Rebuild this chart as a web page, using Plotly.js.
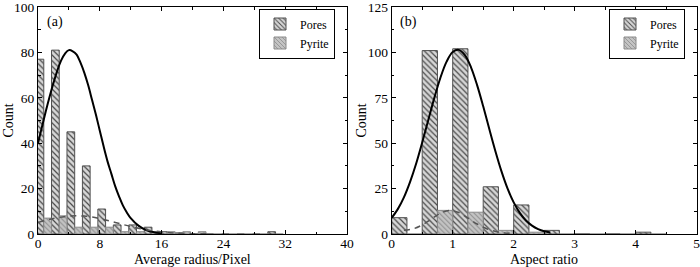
<!DOCTYPE html>
<html>
<head>
<meta charset="utf-8">
<script src="https://cdn.plot.ly/plotly-3.0.1.min.js"></script>
<style>html,body{margin:0;padding:0;background:#fff;}#chart{width:700px;height:267px;}</style>
</head>
<body>
<div id="chart"></div>
<script>
// ---- Panel (a): average radius histogram (bin centres, width 2) ----
var binsA = [0.75, 2.75, 4.75, 6.75, 8.75, 10.75, 12.75, 14.75, 16.75, 18.75, 20.75, 22.75, 24.75, 26.75, 28.75, 30.75];
var poresA = [77, 81, 45, 30, 11, 4, 4, 3, 1, 0.5, 0, 0, 0, 0, 0, 1];
var pyriteA = [7, 8, 3, 3, 3, 1, 1, 1, 1, 1, 1, 0, 0, 0, 0, 0];
var fitPoresAx = [0, 0.5, 1, 1.5, 2, 2.5, 3, 3.5, 4, 4.5, 5, 5.5, 6, 6.5, 7, 7.5, 8, 8.5, 9, 9.5, 10, 10.5, 11, 11.5, 12, 13, 14, 15, 16];
var fitPoresAy = [40, 47, 54, 60.5, 66.5, 72, 76.5, 79.5, 81, 80.5, 79, 75.5, 71, 65.5, 59, 52.5, 45.5, 38.5, 32, 26.5, 21, 16.5, 12.5, 9.5, 7, 3.7, 1.7, 0.8, 0.3];
var fitPyriteAx = [0, 2, 4, 6, 8, 10, 12, 14, 16, 18, 20, 22];
var fitPyriteAy = [5.1, 6.8, 7.9, 7.9, 6.8, 5.1, 3.3, 1.9, 0.9, 0.4, 0.15, 0.05];

// ---- Panel (b): aspect ratio histogram (bin centres, width 0.5) ----
var binsB = [0.25, 0.75, 1.25, 1.75, 2.25, 2.75, 3.25, 3.75, 4.25];
var poresB = [9, 101, 102, 26, 16, 2, 0, 0, 1];
var pyriteB = [0, 13, 12, 2, 1, 0, 0, 0, 0];
var fitPoresBx = [0, 0.1, 0.2, 0.3, 0.4, 0.5, 0.6, 0.7, 0.8, 0.9, 1.0, 1.1, 1.2, 1.3, 1.4, 1.5, 1.6, 1.7, 1.8, 1.9, 2.0, 2.1, 2.2, 2.3, 2.4, 2.5, 2.6];
var fitPoresBy = [8.9, 13.7, 20.2, 28.6, 38.7, 50.4, 62.8, 75.1, 86.2, 94.9, 100.2, 101.4, 98.5, 91.8, 82, 70.3, 57.8, 45.6, 34.5, 25, 17.4, 11.6, 7.4, 4.6, 2.7, 1.5, 0.8];
var fitPyriteBx = [0.2, 0.35, 0.5, 0.65, 0.8, 0.95, 1.1, 1.25, 1.4, 1.55, 1.7, 1.85, 2.0];
var fitPyriteBy = [2, 2.8, 5, 8.2, 11.5, 13, 11.8, 8.8, 5.5, 3, 1.4, 0.6, 0.2];

var seriesNames = ['Pores', 'Pyrite'];
var panelLabels = ['(a)', '(b)'];
var xTitles = ['Average radius/Pixel', 'Aspect ratio'];
var yTitle = 'Count';

var FONT = 'Liberation Serif';
var poresMarker = {color: '#d6d6d6', line: {color: '#505050', width: 1},
  pattern: {shape: '\\', fgcolor: '#4a4a4a', bgcolor: '#d6d6d6', size: 4, solidity: 0.3, fillmode: 'replace'}};
var pyriteMarker = {color: '#bdbdbd', line: {color: '#8a8a8a', width: 1},
  pattern: {shape: '\\', fgcolor: '#8e8e8e', bgcolor: '#c4c4c4', size: 3.5, solidity: 0.3, fillmode: 'replace'}};

var traces = [
  {type: 'bar', x: binsA, y: poresA, name: seriesNames[0], marker: poresMarker, xaxis: 'x', yaxis: 'y', legend: 'legend'},
  {type: 'bar', x: binsA, y: pyriteA, name: seriesNames[1], marker: pyriteMarker, xaxis: 'x', yaxis: 'y', legend: 'legend'},
  {type: 'scatter', mode: 'lines', x: fitPoresAx, y: fitPoresAy, line: {color: '#000', width: 2, shape: 'spline'}, showlegend: false, xaxis: 'x', yaxis: 'y'},
  {type: 'scatter', mode: 'lines', x: fitPyriteAx, y: fitPyriteAy, line: {color: '#555', width: 1.5, dash: '6px,5px', shape: 'spline'}, showlegend: false, xaxis: 'x', yaxis: 'y'},
  {type: 'bar', x: binsB, y: poresB, name: seriesNames[0], marker: poresMarker, xaxis: 'x2', yaxis: 'y2', legend: 'legend2'},
  {type: 'bar', x: binsB, y: pyriteB, name: seriesNames[1], marker: pyriteMarker, xaxis: 'x2', yaxis: 'y2', legend: 'legend2'},
  {type: 'scatter', mode: 'lines', x: fitPoresBx, y: fitPoresBy, line: {color: '#000', width: 2, shape: 'spline'}, showlegend: false, xaxis: 'x2', yaxis: 'y2'},
  {type: 'scatter', mode: 'lines', x: fitPyriteBx, y: fitPyriteBy, line: {color: '#555', width: 1.5, dash: '6px,5px', shape: 'spline'}, showlegend: false, xaxis: 'x2', yaxis: 'y2'}
];

function axisBase(extra) {
  var a = {showgrid: false, zeroline: false, showline: true, linecolor: '#000', linewidth: 1, mirror: 'allticks',
    ticks: 'inside', ticklen: 4, tickcolor: '#000', tickwidth: 1, ticklabeloverflow: 'allow',
    tickfont: {family: FONT, size: 13.5, color: '#000'}, automargin: false};
  for (var k in extra) a[k] = extra[k];
  return a;
}

var legendBase = {bgcolor: '#fff', bordercolor: '#000', borderwidth: 1, font: {family: FONT, size: 12, color: '#000'},
  yanchor: 'middle', xanchor: 'right', y: (234 - 33.5) / 227, tracegroupgap: 0, itemwidth: 30};

function titleAnn(text, xref, x, y, angle, yanchor) {
  return {text: text, xref: xref, yref: 'paper', x: x, y: y, xanchor: 'center', yanchor: yanchor || 'middle',
    textangle: angle || 0, showarrow: false, font: {family: FONT, size: 14, color: '#000'}};
}

var layout = {
  width: 700, height: 267,
  margin: {l: 0, r: 0, t: 7, b: 33},
  paper_bgcolor: '#fff', plot_bgcolor: '#fff',
  barmode: 'group', bargap: 0, bargroupgap: 0,
  font: {family: FONT, size: 13, color: '#000'},
  xaxis: axisBase({domain: [38/700, 347/700], range: [0, 40], tickvals: [0, 8, 16, 24, 32, 40], ticklabelstandoff: -3,
    minor: {dtick: 4, tick0: 0, ticks: 'inside', ticklen: 2.5, tickcolor: '#000'}, anchor: 'y'}),
  yaxis: axisBase({domain: [0, 1], range: [0, 100], tickvals: [0, 20, 40, 60, 80, 100],
    minor: {dtick: 10, tick0: 0, ticks: 'inside', ticklen: 2.5, tickcolor: '#000'}, anchor: 'x'}),
  xaxis2: axisBase({domain: [391.7/700, 696.7/700], range: [0, 5], tickvals: [0, 1, 2, 3, 4, 5], ticklabelstandoff: -3,
    minor: {dtick: 0.5, tick0: 0, ticks: 'inside', ticklen: 2.5, tickcolor: '#000'}, anchor: 'y2'}),
  yaxis2: axisBase({domain: [0, 1], range: [0, 125], tickvals: [0, 25, 50, 75, 100, 125],
    minor: {dtick: 12.5, tick0: 0, ticks: 'inside', ticklen: 2.5, tickcolor: '#000'}, anchor: 'x2'}),
  legend: Object.assign({}, legendBase, {x: 335/700}),
  legend2: Object.assign({}, legendBase, {x: 685/700}),
  annotations: [
    {text: panelLabels[0], xref: 'x domain', yref: 'y domain', x: 0.022, y: 0.935, xanchor: 'left', yanchor: 'middle', showarrow: false, font: {family: FONT, size: 14, color: '#000'}},
    {text: panelLabels[1], xref: 'x2 domain', yref: 'y2 domain', x: 0.022, y: 0.935, xanchor: 'left', yanchor: 'middle', showarrow: false, font: {family: FONT, size: 14, color: '#000'}},
    titleAnn(xTitles[0], 'paper', 192.5/700, -25/227),
    titleAnn(xTitles[1], 'paper', 544/700, -25/227),
    titleAnn(yTitle, 'paper', 8/700, 0.5, -90),
    titleAnn(yTitle, 'paper', 361/700, 0.5, -90)
  ]
};

Plotly.newPlot('chart', traces, layout, {displayModeBar: false, staticPlot: true});
</script>
</body>
</html>
